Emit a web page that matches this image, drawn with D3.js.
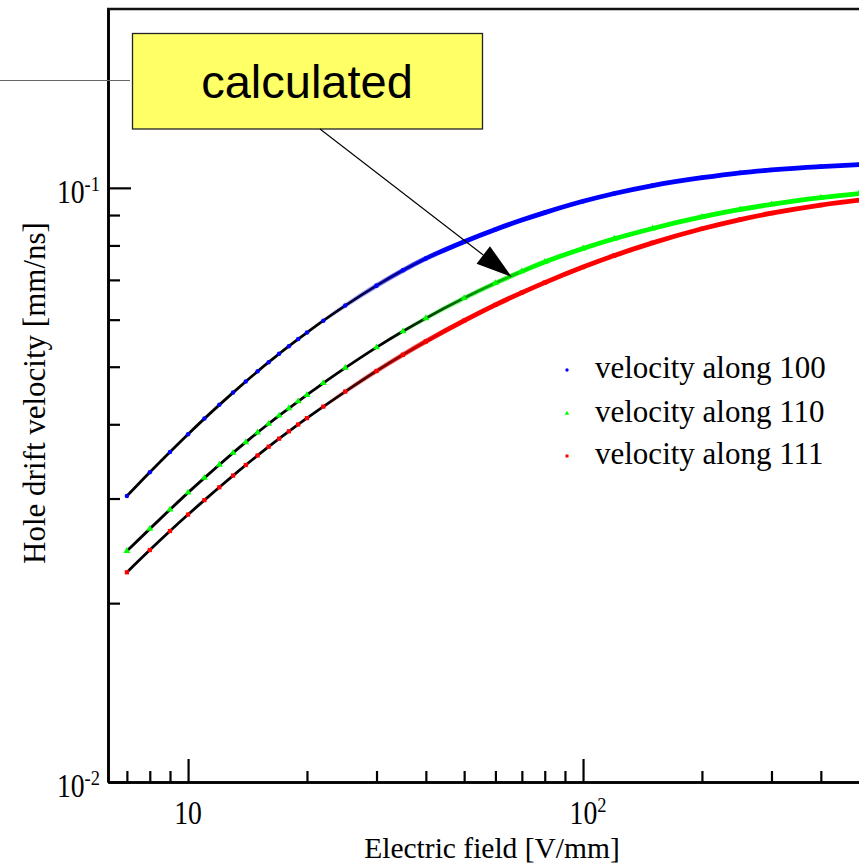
<!DOCTYPE html>
<html>
<head>
<meta charset="utf-8">
<script src="https://cdn.jsdelivr.net/npm/d3@7/dist/d3.min.js"></script>
<style>
  html, body { margin: 0; padding: 0; background: #ffffff; }
  svg { display: block; }
</style>
</head>
<body>
<svg id="chart" width="859" height="864"></svg>
<script>
// ---------------- data ----------------
const fieldValues = [7, 8, 9, 10, 11, 12, 13, 14, 15, 16, 17, 18, 19, 20, 22, 25, 30, 35, 40,
                     50, 60, 70, 80, 100, 120, 150, 200, 250, 300, 400, 500];
const velocity100 = [0.03029, 0.03322, 0.03594, 0.03850, 0.04089, 0.04313, 0.04523, 0.04722, 0.04911, 0.05088,
                     0.05256, 0.05414, 0.05565, 0.05708, 0.05977, 0.06336, 0.06846, 0.07265, 0.07607,
                     0.08118, 0.08511, 0.08827, 0.09086, 0.09493, 0.09784, 0.1009, 0.1040, 0.1060, 0.1072, 0.1086, 0.1094];
const velocity110 = [0.02448, 0.02667, 0.02874, 0.03069, 0.03250, 0.03420, 0.03581, 0.03732, 0.03876, 0.04009,
                     0.04137, 0.04256, 0.04372, 0.04482, 0.04693, 0.04977, 0.05389, 0.05735, 0.06033,
                     0.06523, 0.06914, 0.07235, 0.07503, 0.07907, 0.08209, 0.08544, 0.08933, 0.09196, 0.09382, 0.09627, 0.0978];
const velocity111 = [0.02254, 0.02457, 0.02645, 0.02819, 0.02981, 0.03134, 0.03279, 0.03416, 0.03545, 0.03667,
                     0.03783, 0.03893, 0.03997, 0.04097, 0.04284, 0.04541, 0.04918, 0.05237, 0.05514,
                     0.05977, 0.06354, 0.06664, 0.06927, 0.07357, 0.07692, 0.08079, 0.08534, 0.08844, 0.09065, 0.09356, 0.09535];
const seriesNames  = ["velocity along 100", "velocity along 110", "velocity along 111"];
const seriesColors = ["#0000ff", "#00ff00", "#ff0000"];
const seriesSymbols = ["circle", "triangle", "square"];

const xMajorTicks = [10, 100];
const xMajorLabels = [["10", ""], ["10", "2"]];
const yMajorTicks = [0.01, 0.1];
const yMajorLabels = [["10", "-2"], ["10", "-1"]];
const xMinorTicks = [7, 8, 9, 20, 30, 40, 50, 60, 70, 80, 90, 200, 300, 400];
const yMinorTicks = [0.02, 0.03, 0.04, 0.05, 0.06, 0.07, 0.08, 0.09];

const xTitle = "Electric field [V/mm]";
const yTitle = "Hole drift velocity [mm/ns]";
const annotationText = "calculated";
const annotationTarget = { field: 66, velocity: 0.0708 };

// ---------------- layout ----------------
const svg = d3.select("#chart");
const W = 859, H = 864;
const plotLeft = 108, plotTop = 9, plotBottom = 782;

const x = d3.scaleLog().domain([6.27, 1000]).range([plotLeft, 978]);
const y = d3.scaleLog().domain([0.01, 0.2]).range([plotBottom, plotTop]);

const defs = svg.append("defs");
defs.append("clipPath").attr("id", "plotClip")
  .append("rect").attr("x", plotLeft).attr("y", plotTop).attr("width", W - plotLeft).attr("height", plotBottom - plotTop);

const series = [velocity100, velocity110, velocity111].map((vals, i) => ({
  name: seriesNames[i], color: seriesColors[i], symbol: seriesSymbols[i],
  points: fieldValues.map((f, j) => ({ f: f, v: vals[j] }))
}));

// gradient ramps: where the dense markers fully hide the black fit line
const rampStart = [22, 32, 22], rampEnd = [45, 78, 45];
series.forEach((s, i) => {
  const g = defs.append("linearGradient").attr("id", "grad" + i)
    .attr("gradientUnits", "userSpaceOnUse")
    .attr("x1", x(rampStart[i])).attr("x2", x(rampEnd[i])).attr("y1", 0).attr("y2", 0);
  g.append("stop").attr("offset", 0).attr("stop-color", s.color).attr("stop-opacity", 0);
  g.append("stop").attr("offset", 1).attr("stop-color", s.color).attr("stop-opacity", 1);
});

const plot = svg.append("g").attr("clip-path", "url(#plotClip)");
const line = d3.line().x(d => x(d.f)).y(d => y(d.v)).curve(d3.curveMonotoneX);

// black fitted curves
series.forEach(s => {
  plot.append("path").datum(s.points).attr("d", line)
    .attr("fill", "none").attr("stroke", "#000").attr("stroke-width", 2.8);
});
// dense coloured data (appears as thick coloured line at high field)
series.forEach((s, i) => {
  plot.append("path").datum(s.points).attr("d", line)
    .attr("fill", "none").attr("stroke", "url(#grad" + i + ")").attr("stroke-width", 4.8);
});
// individual markers
function symbolPath(kind, size) {
  const t = kind === "circle" ? d3.symbolCircle : kind === "triangle" ? d3.symbolTriangle : d3.symbolSquare;
  return d3.symbol().type(t).size(size)();
}
const markerSizes = { circle: 16, triangle: 20, square: 18 };
series.forEach(s => {
  plot.append("g").selectAll("path").data(s.points).join("path")
    .attr("transform", d => `translate(${x(d.f)},${y(d.v)})`)
    .attr("d", symbolPath(s.symbol, markerSizes[s.symbol]))
    .attr("fill", s.color);
});

// ---------------- axes ----------------
const axisStyle = g => {
  g.select(".domain").attr("stroke", "#000").attr("stroke-width", 2.6);
  g.selectAll(".tick line").attr("stroke", "#000").attr("stroke-width", 2.2);
  g.selectAll(".tick text").remove();
};
svg.append("g").attr("transform", `translate(0,${plotBottom})`)
  .call(d3.axisBottom(x).tickValues(xMinorTicks).tickSizeInner(-11).tickSizeOuter(0).tickFormat(""))
  .call(axisStyle);
svg.append("g").attr("transform", `translate(0,${plotBottom})`)
  .call(d3.axisBottom(x).tickValues(xMajorTicks).tickSizeInner(-23).tickSizeOuter(0).tickFormat(""))
  .call(axisStyle);
svg.append("g").attr("transform", `translate(${plotLeft},0)`)
  .call(d3.axisLeft(y).tickValues(yMinorTicks).tickSizeInner(-12).tickSizeOuter(0).tickFormat(""))
  .call(axisStyle);
svg.append("g").attr("transform", `translate(${plotLeft},0)`)
  .call(d3.axisLeft(y).tickValues(yMajorTicks).tickSizeInner(-23).tickSizeOuter(0).tickFormat(""))
  .call(axisStyle);
// top frame line
svg.append("line").attr("x1", plotLeft - 1).attr("x2", W).attr("y1", plotTop).attr("y2", plotTop)
  .attr("stroke", "#111").attr("stroke-width", 2.6);

// tick labels (serif, slightly condensed)
const serif = "'Liberation Serif', 'Times New Roman', serif";
function powerLabel(parent, tx, ty, parts, anchor) {
  const g = parent.append("g").attr("transform", `translate(${tx},${ty}) scale(0.84,1)`);
  const t = g.append("text").attr("font-family", serif).attr("font-size", 33)
    .attr("text-anchor", anchor).attr("fill", "#000");
  t.append("tspan").text(parts[0]);
  if (parts[1]) t.append("tspan").attr("font-size", 22).attr("dy", -12).text(parts[1]);
}
xMajorTicks.forEach((v, i) => powerLabel(svg, x(v) + (xMajorLabels[i][1] ? 5 : 0), 823.5, xMajorLabels[i], "middle"));
yMajorTicks.forEach((v, i) => powerLabel(svg, 100, y(v) + 15, yMajorLabels[i], "end"));

// axis titles
svg.append("text").attr("x", 492).attr("y", 857.5).attr("text-anchor", "middle")
  .attr("font-family", serif).attr("font-size", 29.5).attr("fill", "#000").text(xTitle);
svg.append("text").attr("transform", `translate(45,${393}) rotate(-90)`).attr("text-anchor", "middle")
  .attr("font-family", serif).attr("font-size", 31).attr("fill", "#000").text(yTitle);

// ---------------- legend ----------------
const legendY = [378, 421.5, 464];
series.forEach((s, i) => {
  svg.append("path").attr("transform", `translate(567,${legendY[i] - 8})`)
    .attr("d", symbolPath(s.symbol, 9)).attr("fill", s.color);
  svg.append("text").attr("x", 595).attr("y", legendY[i])
    .attr("font-family", serif).attr("font-size", 31).attr("fill", "#000").text(s.name);
});

// ---------------- annotation ----------------
svg.append("line").attr("x1", 0).attr("x2", 130).attr("y1", 80.5).attr("y2", 80.5)
  .attr("stroke", "#666").attr("stroke-width", 1.2);
svg.append("rect").attr("x", 132.5).attr("y", 33.5).attr("width", 350).attr("height", 95.5)
  .attr("fill", "#ffff66").attr("stroke", "#222").attr("stroke-width", 1.3);
svg.append("text").attr("x", 307).attr("y", 97.5).attr("text-anchor", "middle")
  .attr("font-family", "'Liberation Sans', Arial, sans-serif").attr("font-size", 47)
  .attr("fill", "#000").text(annotationText);

const tipX = x(annotationTarget.field), tipY = y(annotationTarget.velocity);
const startX = 320, startY = 129;
const ang = Math.atan2(tipY - startY, tipX - startX);
const headLen = 36, headHalf = 11;
const bx = tipX - headLen * Math.cos(ang), by = tipY - headLen * Math.sin(ang);
svg.append("line").attr("x1", startX).attr("y1", startY).attr("x2", bx).attr("y2", by)
  .attr("stroke", "#000").attr("stroke-width", 1.1);
svg.append("path")
  .attr("d", `M${tipX},${tipY}L${bx - headHalf * Math.sin(ang)},${by + headHalf * Math.cos(ang)}L${bx + headHalf * Math.sin(ang)},${by - headHalf * Math.cos(ang)}Z`)
  .attr("fill", "#000");
</script>
</body>
</html>
